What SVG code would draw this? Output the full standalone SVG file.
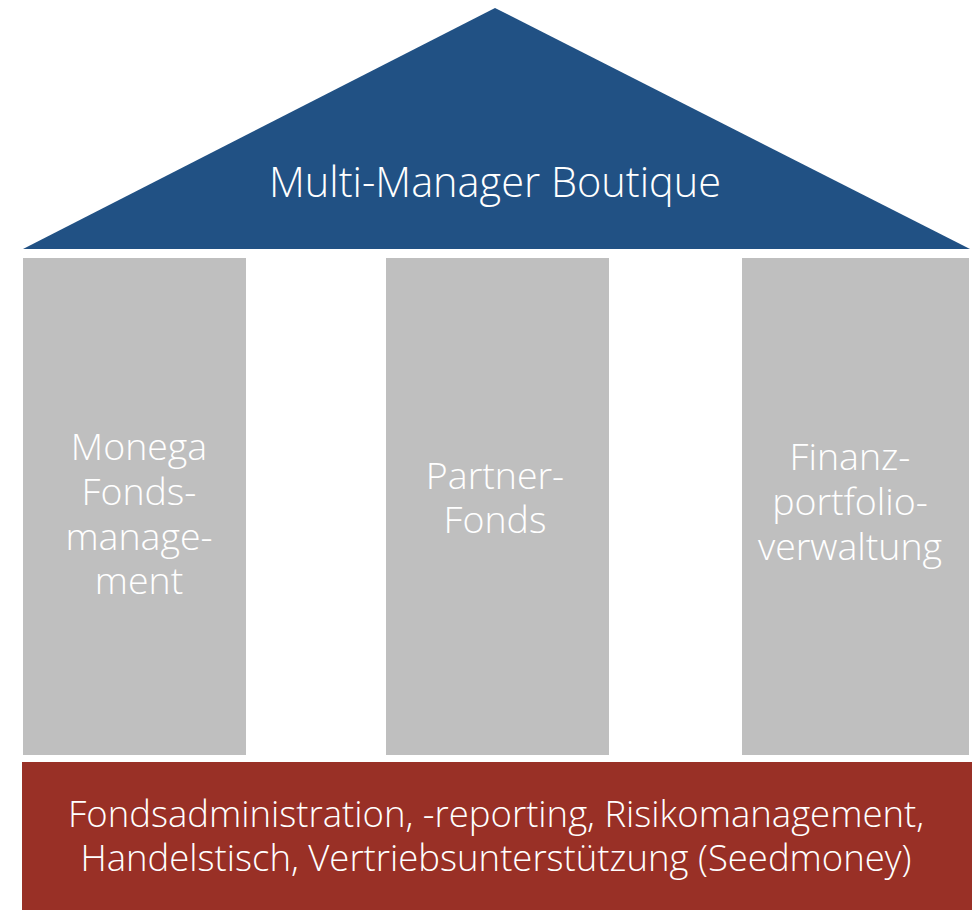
<svg xmlns="http://www.w3.org/2000/svg" width="975" height="910" viewBox="0 0 975 910">
<style>
.t{font-family:"Open Sans","Liberation Sans",sans-serif;font-weight:300;fill:#fff;text-anchor:middle}
.col{fill:#bfbfbf}
.c{font-size:37.5px}
</style>
<rect width="975" height="910" fill="#fff"/>
<g id="roof">
<polygon points="495,8 970,249 23,249" fill="#215184"/>
<text class="t" x="495" y="197" font-size="41.5">Multi-Manager Boutique</text>
</g>
<g id="pillar1">
<rect class="col" x="23" y="258" width="223" height="497"/>
<text class="t c" x="139" y="460">Monega</text>
<text class="t c" x="139" y="505">Fonds-</text>
<text class="t c" x="139" y="550">manage-</text>
<text class="t c" x="139" y="594">ment</text>
</g>
<g id="pillar2">
<rect class="col" x="386" y="258" width="223" height="497"/>
<text class="t c" x="495" y="489">Partner-</text>
<text class="t c" x="495" y="533">Fonds</text>
</g>
<g id="pillar3">
<rect class="col" x="742" y="258" width="227" height="497"/>
<text class="t c" x="850" y="470">Finanz-</text>
<text class="t c" x="850" y="515">portfolio-</text>
<text class="t c" x="850" y="560">verwaltung</text>
</g>
<g id="base">
<rect x="22" y="762" width="950" height="148" fill="#993026"/>
<text class="t" x="496" y="827" font-size="36.5">Fondsadministration, -reporting, Risikomanagement,</text>
<text class="t" x="496" y="871" font-size="36.5">Handelstisch, Vertriebsunterstützung (Seedmoney)</text>
</g>
<g id="connectors"></g>
</svg>
